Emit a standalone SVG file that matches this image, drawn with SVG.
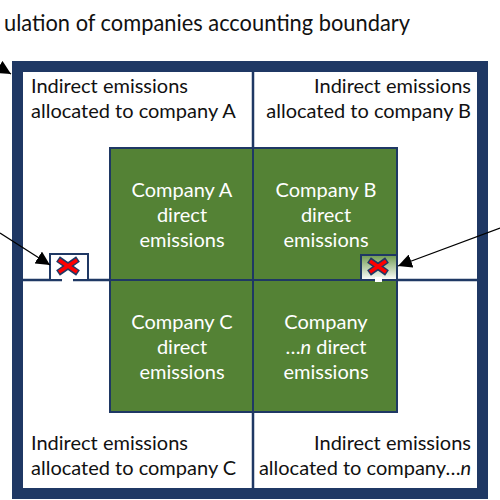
<svg xmlns="http://www.w3.org/2000/svg" width="500" height="500" viewBox="0 0 500 500">
<defs>
<style>
.t{font-family:Lato,"Open Sans","Liberation Sans",sans-serif;font-size:20px;fill:#111}
.w{font-family:Lato,"Open Sans","Liberation Sans",sans-serif;font-size:20px;fill:#fff;text-anchor:middle}
.div{stroke:#1f3864;stroke-width:2.5;fill:none}
.cell{fill:#548235;stroke:#1f3864;stroke-width:2}
.arr{stroke:#000;stroke-width:1.3;fill:none;marker-end:url(#ah)}
.xo{stroke:#1f3864;stroke-width:6.5;stroke-linecap:butt}
.xi{stroke:#ff0000;stroke-width:3.5;stroke-linecap:butt}
</style>
<marker id="ah" viewBox="0 0 10 10" refX="10" refY="5" markerWidth="14" markerHeight="14" markerUnits="userSpaceOnUse" orient="auto">
<path d="M0,0 L10,5 L0,10 z" fill="#000"/>
</marker>
<linearGradient id="gb" x1="0" y1="0" x2="0" y2="1">
<stop offset="0" stop-color="#6e9a50"/>
<stop offset="1" stop-color="#ffffff"/>
</linearGradient>
</defs>
<rect width="500" height="500" fill="#fff"/>
<text class="t" x="4" y="31" textLength="406" lengthAdjust="spacingAndGlyphs" style="font-size:24px">ulation of companies accounting boundary</text>
<g id="frame">
<rect x="17.5" y="66.5" width="465" height="427" fill="#fff" stroke="#1f3864" stroke-width="11"/>
</g>
<g id="dividers">
<line class="div" x1="253" y1="72" x2="253" y2="488"/>
<line class="div" x1="23" y1="280" x2="477" y2="280"/>
</g>
<g id="indirect-A"><text class="t" x="31" y="93">Indirect emissions</text><text class="t" x="31" y="118">allocated to company A</text></g>
<g id="indirect-B"><text class="t" x="471" y="93" text-anchor="end">Indirect emissions</text><text class="t" x="471" y="118" text-anchor="end">allocated to company B</text></g>
<g id="indirect-C"><text class="t" x="31" y="450">Indirect emissions</text><text class="t" x="31" y="475">allocated to company C</text></g>
<g id="indirect-n"><text class="t" x="471" y="450" text-anchor="end">Indirect emissions</text><text class="t" x="471" y="475" text-anchor="end">allocated to company…<tspan font-style="italic">n</tspan></text></g>
<g id="company-A"><rect class="cell" x="110" y="148" width="143" height="132"/><text class="w" x="182" y="197">Company A</text><text class="w" x="182" y="222">direct</text><text class="w" x="182" y="247">emissions</text></g>
<g id="company-B"><rect class="cell" x="253" y="148" width="144" height="132"/><text class="w" x="326" y="197">Company B</text><text class="w" x="326" y="222">direct</text><text class="w" x="326" y="247">emissions</text></g>
<g id="company-C"><rect class="cell" x="110" y="280" width="143" height="132"/><text class="w" x="182" y="329">Company C</text><text class="w" x="182" y="354">direct</text><text class="w" x="182" y="379">emissions</text></g>
<g id="company-n"><rect class="cell" x="253" y="280" width="144" height="132"/><text class="w" x="326" y="329">Company</text><text class="w" x="326" y="354">…<tspan font-style="italic">n</tspan> direct</text><text class="w" x="326" y="379">emissions</text></g>
<g id="cut-left">
<rect x="50" y="254" width="38" height="26" fill="#fff" stroke="#1f3864" stroke-width="2"/>
<rect x="62" y="277" width="11" height="5" fill="#fff"/>
<line class="xo" x1="58" y1="259" x2="78" y2="273"/><line class="xo" x1="78" y1="259" x2="58" y2="273"/>
<line class="xi" x1="59" y1="260" x2="77" y2="272"/><line class="xi" x1="77" y1="260" x2="59" y2="272"/>
</g>
<g id="cut-right">
<rect x="361" y="255" width="36" height="25" fill="url(#gb)" stroke="#1f3864" stroke-width="2"/>
<rect x="375" y="277" width="7" height="5" fill="#fff"/>
<line class="xo" x1="369" y1="260" x2="387" y2="273"/><line class="xo" x1="387" y1="260" x2="369" y2="273"/>
<line class="xi" x1="370" y1="261" x2="386" y2="272"/><line class="xi" x1="386" y1="261" x2="370" y2="272"/>
</g>
<g id="connectors">
<line class="arr" x1="0" y1="233" x2="50" y2="265"/>
<line class="arr" x1="500" y1="228" x2="398" y2="266"/>
<line class="arr" x1="-30" y1="50" x2="11" y2="74"/>
</g>
</svg>
